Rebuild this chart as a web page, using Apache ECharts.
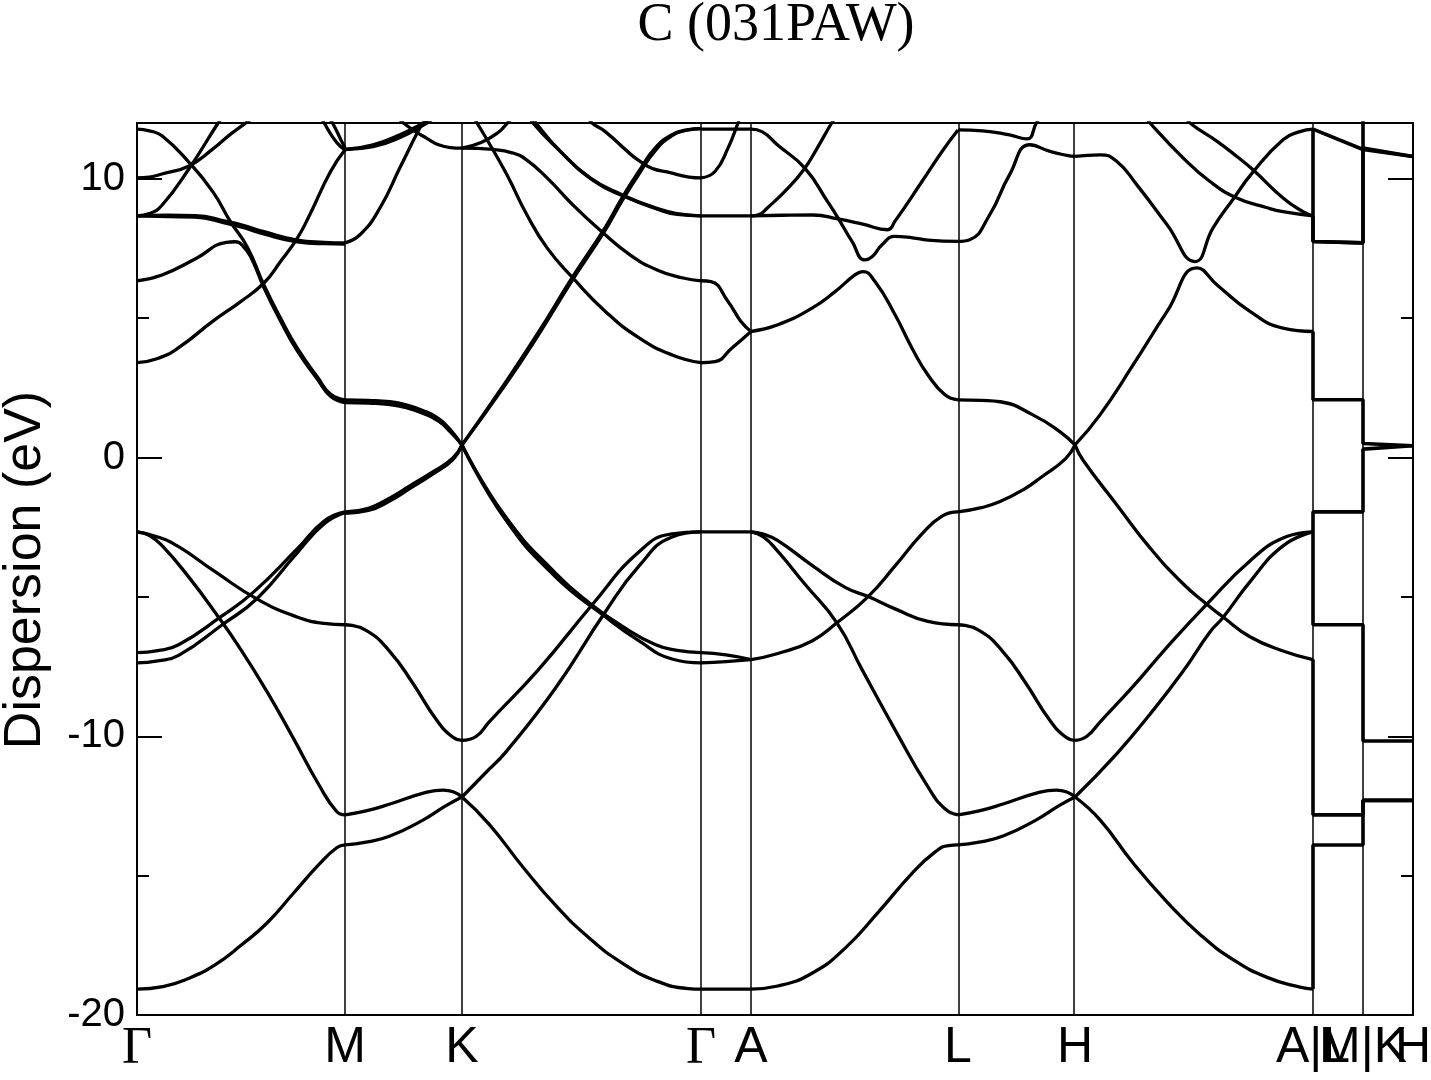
<!DOCTYPE html>
<html><head><meta charset="utf-8">
<script src="https://cdn.jsdelivr.net/npm/echarts@6/dist/echarts.min.js"></script>
<style>html,body{margin:0;padding:0;background:#fff}#c{width:1431px;height:1080px}</style>
</head><body><div id="c"></div><script>
// high-symmetry path positions (k-path distance, arb. units) and labels
const kTicks = [0, 0.8703, 1.3598, 2.3598, 2.5690, 3.4351, 3.9247, 4.9205, 5.1297, 5.3389];
const kLabels = ['Γ', 'M', 'K', 'Γ', 'A', 'L', 'H', 'A|L', 'M|K', 'H'];
const yMajorTicks = [-20, -10, 0, 10];
const yMinorTicks = [-15, -5, 5];

// Each band piece: [fraction along segment, energy (eV)]
const bandsGM = [
  [[0,-19.07],[.125,-18.98],[.25,-18.68],[.375,-18.2],[.5,-17.5],[.625,-16.7],[.75,-15.65],[.875,-14.6],[.96,-14.0],[1,-13.9]],
  [[0,-2.67],[.06,-2.8],[.125,-3.2],[.25,-4.3],[.375,-5.55],[.5,-6.9],[.625,-8.4],[.75,-10.05],[.875,-11.75],[.96,-12.7],[1,-12.82]],
  [[0,-2.67],[.1,-2.85],[.2,-3.2],[.37,-4.07],[.58,-5.09],[.77,-5.72],[.9,-5.95],[1,-6.0]],
  [[0,-7.0],[.1,-6.93],[.2,-6.72],[.4,-5.73],[.56,-4.83],[.77,-3.28],[.9,-2.28],[1,-1.95]],
  [[0,-7.37],[.1,-7.3],[.2,-7.1],[.41,-6.0],[.58,-5.04],[.77,-3.42],[.9,-2.38],[1,-1.98]],
  [[0,11.78],[.06,11.72],[.12,11.54],[.25,10.59],[.365,9.53],[.45,8.45],[.53,7.55],[.61,6.19],[.69,5.0],[.77,3.93],[.87,2.86],[.93,2.28],[1,2.07]],
  [[0,6.34],[.12,6.55],[.284,7.14],[.43,7.72],[.47,7.74],[.51,7.58],[.55,7.15],[.61,6.1],[.69,4.9],[.77,3.83],[.87,2.78],[.93,2.2],[1,1.97]],
  [[0,8.67],[.15,8.69],[.28,8.68],[.43,8.47],[.51,8.33],[.61,8.1],[.77,7.8],[.9,7.72],[1,7.7]],
  [[0,8.67],[.15,8.64],[.28,8.62],[.43,8.4],[.51,8.25],[.61,8.02],[.77,7.74],[.9,7.67],[1,7.66]],
  [[0,10.03],[.06,10.06],[.12,10.17],[.25,10.46],[.365,11.07],[.45,11.6],[.53,12.04],[.56,12.2]],
  [[0,8.67],[.06,8.75],[.12,9.05],[.25,10.36],[.39,12.0],[.42,12.3]],
  [[0,3.4],[.1,3.55],[.2,3.94],[.365,4.89],[.5,5.6],[.61,6.26],[.69,7.03],[.77,7.86],[.83,8.7],[.93,10.25],[1,11.04]],
  [[.88,12.3],[.9,12.0],[.96,11.3],[1,11.04]],
  [[.92,12.2],[.94,12.0],[.98,11.4],[1,11.1]]
];
const bandsMK = [
  [[0,-1.95],[.2,-1.82],[.385,-1.45],[.56,-1.0],[.75,-0.52],[.92,-0.03],[1,0.45]],
  [[0,-2.0],[.2,-1.9],[.385,-1.55],[.56,-1.1],[.75,-0.6],[.92,-0.08],[1,0.45]],
  [[0,2.07],[.2,2.05],[.385,2.0],[.53,1.88],[.67,1.68],[.8,1.4],[.9,1.0],[1,0.45]],
  [[0,1.97],[.2,1.95],[.385,1.9],[.53,1.78],[.67,1.58],[.8,1.3],[.9,0.92],[1,0.45]],
  [[0,-6.0],[.18,-6.2],[.385,-6.97],[.58,-8.1],[.78,-9.4],[.92,-10.03],[1,-10.15]],
  [[0,-12.82],[.18,-12.68],[.385,-12.43],[.67,-12.04],[.84,-11.93],[.93,-12.0],[1,-12.18]],
  [[0,-13.9],[.18,-13.8],[.385,-13.58],[.67,-13.0],[.86,-12.5],[1,-12.18]],
  [[0,11.05],[.24,11.22],[.47,11.58],[.67,12.0],[.72,12.15]],
  [[0,11.05],[.24,11.15],[.47,11.48],[.7,12.0],[.75,12.15]],
  [[0,7.7],[.13,8.0],[.3,8.96],[.47,10.4],[.64,11.83],[.67,12.0],[.7,12.2]],
  [[.45,12.2],[.5,12.0],[.6,11.7],[.7,11.45],[.8,11.22],[.9,11.12],[1,11.1]]
];
const bandsKG = [
  [[0,-12.18],[.113,-13.15],[.253,-14.67],[.393,-16.08],[.531,-17.23],[.669,-18.13],[.808,-18.76],[.946,-19.05],[1,-19.07]],
  [[0,-12.18],[.1,-11.3],[.184,-10.56],[.393,-8.25],[.598,-5.56],[.741,-3.89],[.879,-2.85],[1,-2.67]],
  [[0,-10.15],[.06,-10.0],[.113,-9.49],[.32,-7.61],[.544,-5.29],[.741,-3.38],[.879,-2.74],[1,-2.67]],
  [[0,0.45],[.18,-2.1],[.39,-4.14],[.544,-5.29],[.67,-6.05],[.808,-6.71],[.9,-6.92],[1,-7.0]],
  [[0,0.45],[.18,-2.2],[.39,-4.27],[.598,-5.7],[.741,-6.58],[.879,-7.23],[1,-7.37]],
  [[0,0.45],[.184,2.72],[.322,4.52],[.46,6.44],[.598,8.24],[.669,9.31],[.741,10.28],[.808,11.1],[.879,11.58],[.94,11.75],[1,11.8]],
  [[0,0.45],[.184,2.64],[.322,4.43],[.46,6.34],[.598,8.14],[.669,9.2],[.741,10.18],[.808,11.0],[.879,11.55],[.94,11.74],[1,11.8]],
  [[.28,12.3],[.297,12.0],[.397,11.1],[.536,10.03],[.669,9.43],[.808,8.96],[.9,8.75],[1,8.67]],
  [[.29,12.3],[.31,12.0],[.41,11.0],[.55,9.93],[.68,9.36],[.82,8.9],[.9,8.72],[1,8.67]],
  [[0,11.1],[.13,11.05],[.21,10.93],[.27,10.68],[.356,10.03],[.464,9.06],[.577,8.16],[.703,7.27],[.816,6.73],[.925,6.44],[1,6.34]],
  [[.05,12.2],[.063,12.0],[.105,11.4],[.188,10.14],[.272,8.7],[.356,7.52],[.464,6.44],[.6,5.24],[.741,4.29],[.879,3.68],[1,3.4]],
  [[0,11.1],[.08,11.3],[.15,11.65],[.19,12.0],[.21,12.2]],
  [[.53,12.2],[.544,12.0],[.598,11.7],[.766,10.5],[.879,10.2],[.95,10.06],[1,10.03]]
];
const bandsGA = [
  [[0,11.78],[1,11.78]],
  [[0,10.03],[.28,10.26],[.54,11.1],[.74,12.0],[.8,12.3]],
  [[0,8.67],[1,8.67]],
  [[0,6.34],[.2,6.31],[.54,5.6],[.8,4.88],[1,4.52]],
  [[0,3.4],[.28,3.44],[.62,3.93],[1,4.52]],
  [[0,-2.67],[1,-2.67]],
  [[0,-7.0],[.5,-7.08],[1,-7.25]],
  [[0,-7.37],[.5,-7.32],[1,-7.25]],
  [[0,-19.07],[1,-19.07]]
];
const bandsAL = [
  [[0,11.78],[.053,11.69],[.13,11.2],[.26,10.38],[.37,9.18],[.42,8.6],[.488,7.75],[.55,7.09],[.585,7.2],[.633,7.63],[.695,7.93],[.78,7.88],[.855,7.8],[1,7.75]],
  [[0,4.52],[.13,4.76],[.295,5.36],[.406,5.95],[.502,6.55],[.54,6.67],[.599,6.31],[.696,5.12],[.778,3.92],[.855,2.96],[.937,2.25],[1,2.07]],
  [[0,8.67],[.15,8.69],[.3,8.7],[.42,8.56],[.54,8.37],[.66,8.17],[.695,8.47],[.826,9.9],[.923,10.98],[1,11.75]],
  [[0,8.67],[.04,8.72],[.08,8.96],[.18,9.67],[.26,10.38],[.32,11.1],[.39,12.0],[.42,12.3]],
  [[0,-2.67],[.06,-2.75],[.13,-2.98],[.295,-3.87],[.455,-4.66],[.566,-4.99],[.696,-5.43],[.855,-5.88],[1,-6.0]],
  [[0,-2.67],[.06,-2.85],[.13,-3.37],[.26,-4.54],[.415,-5.93],[.536,-7.6],[.696,-9.77],[.855,-11.82],[.937,-12.6],[1,-12.82]],
  [[0,-7.25],[.13,-7.03],[.295,-6.58],[.415,-5.93],[.566,-4.99],[.696,-3.89],[.826,-2.74],[.923,-2.1],[1,-1.95]],
  [[0,-19.07],[.13,-18.96],[.295,-18.5],[.455,-17.6],[.613,-16.33],[.778,-14.92],[.89,-14.15],[.955,-13.92],[1,-13.9]]
];
const bandsLH = [
  [[0,11.75],[.21,11.72],[.44,11.57],[.59,11.43],[.67,12.0],[.7,12.2]],
  [[0,7.75],[.1,7.81],[.27,8.7],[.44,10.14],[.615,11.22],[.786,10.98],[.93,10.84],[1,10.8]],
  [[0,2.07],[.2,2.05],[.36,2.0],[.64,1.53],[.87,0.93],[1,0.45]],
  [[0,-1.95],[.2,-1.8],[.36,-1.58],[.56,-1.15],[.72,-0.68],[.92,-0.04],[1,0.45]],
  [[0,-6.0],[.18,-6.2],[.385,-6.97],[.58,-8.1],[.78,-9.4],[.92,-10.03],[1,-10.15]],
  [[0,-12.82],[.18,-12.68],[.385,-12.43],[.67,-12.04],[.84,-11.93],[.93,-12.0],[1,-12.18]],
  [[0,-13.9],[.18,-13.8],[.385,-13.58],[.67,-13.0],[.86,-12.5],[1,-12.18]]
];
const bandsHA = [
  [[0,10.8],[.105,10.86],[.176,10.62],[.26,9.78],[.387,8.35],[.504,7.03],[.58,8.24],[.668,9.31],[.744,10.2],[.874,11.4],[.945,11.69],[1,11.78]],
  [[.3,12.2],[.315,12.0],[.454,10.75],[.567,9.9],[.68,9.31],[.807,8.96],[.874,8.82],[1,8.67]],
  [[.47,12.2],[.483,12.0],[.597,11.34],[.68,10.8],[.748,10.32],[.874,9.31],[.958,8.82],[1,8.67]],
  [[0,0.45],[.105,1.53],[.244,3.32],[.387,5.24],[.513,6.8],[.597,6.19],[.735,5.24],[.874,4.64],[1,4.52]],
  [[0,0.45],[.034,-0.1],[.176,-1.7],[.315,-3.24],[.454,-4.53],[.555,-5.27],[.622,-5.72],[.735,-6.43],[.874,-6.94],[1,-7.25]],
  [[0,-12.18],[.176,-10.62],[.315,-9.21],[.454,-7.67],[.567,-6.26],[.622,-5.74],[.735,-4.46],[.874,-3.17],[1,-2.67]],
  [[0,-10.15],[.05,-10.0],[.105,-9.49],[.244,-8.21],[.387,-6.8],[.555,-5.25],[.735,-3.71],[.874,-2.89],[1,-2.67]],
  [[0,-12.18],[.105,-13.0],[.244,-14.55],[.387,-15.95],[.525,-17.11],[.664,-18.01],[.807,-18.65],[.945,-19.0],[1,-19.07]]
];
// Tail (A|L - M|K - H): energies at [A, L, M, K, H]
const tailBands = [
  [-19.07, -13.9, -13.9, -12.3, -12.3],
  [-7.25, -12.82, -12.82, -12.3, -12.3],
  [-2.67, -6.0, -6.0, -10.17, -10.17],
  [-2.67, -1.95, -1.95, 0.3, 0.42],
  [4.52, 2.07, 2.07, 0.5, 0.42],
  [8.67, 7.75, 7.7, 11.1, 10.8],
  [11.78, 7.75, 7.7, 12.3, 12.3],
  [11.78, 11.75, 11.05, 11.1, 10.8]
];

const segments = [bandsGM, bandsMK, bandsKG, bandsGA, bandsAL, bandsLH, bandsHA];
const series = [];
const lineStyle = {color: '#000', width: 3.3};
segments.forEach((seg, i) => {
  const k0 = kTicks[i], k1 = kTicks[i + 1];
  seg.forEach(c => {
    series.push({
      type: 'line', data: c.map(([t, e]) => [k0 + t * (k1 - k0), e]),
      showSymbol: false, symbol: 'none', smooth: 0.5, lineStyle, silent: true, z: 3
    });
  });
});
const kA = kTicks[7], kLM = kTicks[8], kH = kTicks[9];
tailBands.forEach(b => {
  series.push({
    type: 'line', data: [[kA, b[0]], [kA, b[1]], [kLM, b[2]], [kLM, b[3]], [kH, b[4]]],
    showSymbol: false, symbol: 'none', smooth: false, lineStyle: {color: '#000', width: 3.6}, silent: true, z: 3
  });
});
// high-symmetry vertical lines
series.push({
  type: 'line', data: [], silent: true,
  markLine: {
    symbol: 'none', silent: true, animation: false, label: {show: false},
    lineStyle: {color: '#000', width: 1.5, type: 'solid'},
    emphasis: {disabled: true},
    data: kTicks.slice(1, -1).map(v => ({xAxis: v}))
  }
});

const yBase = (pos, ticks, len, labels) => ({
  type: 'value', min: -20, max: 12, interval: 10, position: pos,
  axisLine: {show: true, onZero: false, lineStyle: {color: '#000', width: 2}},
  axisTick: {show: true, inside: true, length: len, customValues: ticks, lineStyle: {color: '#000', width: 2}},
  axisLabel: labels ? {show: true, customValues: ticks, fontSize: 40, fontFamily: 'Liberation Sans', color: '#000', margin: 12} : {show: false},
  splitLine: {show: false}, minorTick: {show: false}
});

const chart = echarts.init(document.getElementById('c'));
chart.setOption({
  animation: false,
  backgroundColor: '#fff',
  grid: {left: 137, top: 123, width: 1276, height: 892, show: true, borderColor: '#000', borderWidth: 2, backgroundColor: 'rgba(0,0,0,0)'},
  xAxis: {
    type: 'value', min: 0, max: kTicks[kTicks.length - 1],
    axisLine: {show: true, onZero: false, lineStyle: {color: '#000', width: 2}},
    axisTick: {show: false}, splitLine: {show: false}, axisLabel: {show: false}
  },
  yAxis: [
    yBase('left', yMajorTicks, 25, true),
    yBase('left', yMinorTicks, 12, false),
    yBase('right', yMajorTicks, 25, false),
    yBase('right', yMinorTicks, 12, false)
  ],
  series
});

// text: title, y name and high-symmetry labels placed through the x scale
const gfx = [
  {type: 'text', x: 776, y: 26, style: {text: 'C (031PAW)', font: '54px "Liberation Serif"', fill: '#000', align: 'center', verticalAlign: 'middle'}},
  {type: 'text', x: 26, y: 570, rotation: Math.PI / 2, style: {text: 'Dispersion (eV)', font: '52px "Liberation Sans"', fill: '#000', align: 'center', verticalAlign: 'middle'}}
];
const yBottom = chart.convertToPixel({yAxisIndex: 0}, -20);
kTicks.forEach((k, i) => {
  const px = chart.convertToPixel({xAxisIndex: 0}, k);
  const isG = kLabels[i] === 'Γ';
  gfx.push({type: 'text', x: px, y: yBottom + 8, z: 10, style: {
    text: kLabels[i], fill: '#000', align: 'center', verticalAlign: 'top',
    font: isG ? '52px "Liberation Serif"' : '50px "Liberation Sans"'
  }});
});
chart.setOption({graphic: gfx});
</script></body></html>
